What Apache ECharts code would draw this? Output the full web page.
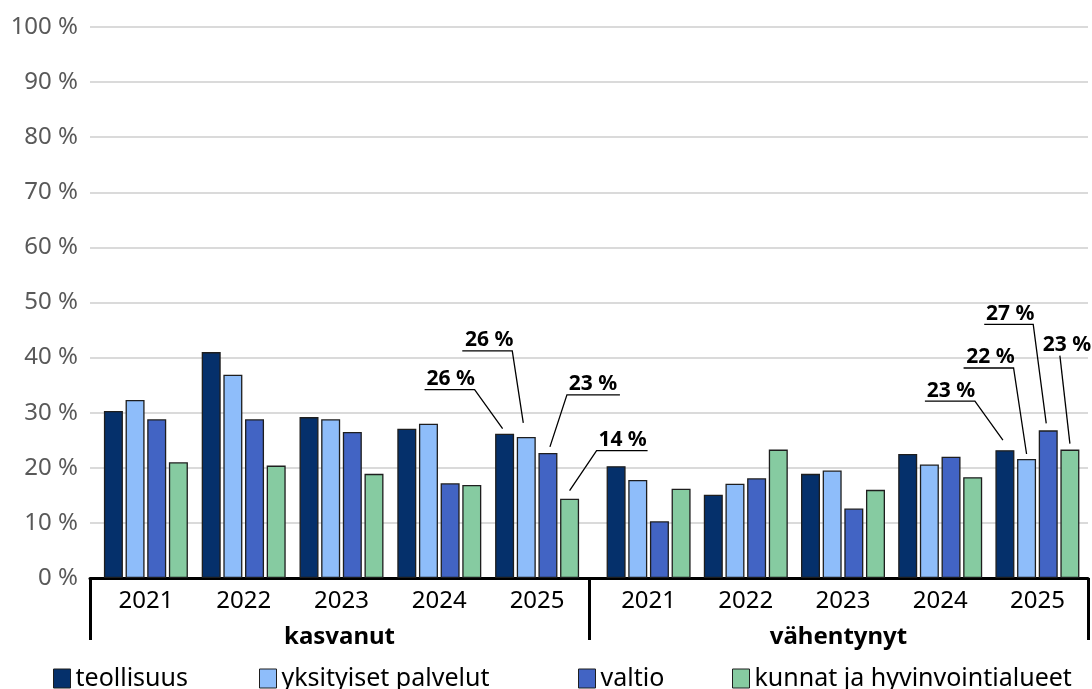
<!DOCTYPE html>
<html lang="fi">
<head>
<meta charset="UTF-8">
<title>kasvanut / vähentynyt</title>
<script src="https://cdn.jsdelivr.net/npm/echarts@6/dist/echarts.min.js"></script>
<style>html,body{margin:0;padding:0;background:#fff}</style>
</head>
<body>
<div id="main" style="width:1092px;height:689px"></div>
<script>
// categories
var years = ['2021', '2022', '2023', '2024', '2025'];
var groups = ['kasvanut', 'vähentynyt'];
var seriesNames = ['teollisuus', 'yksityiset palvelut', 'valtio', 'kunnat ja hyvinvointialueet'];

// kasvanut (%)
var upTeollisuus = [30.3, 41.0, 29.2, 27.1, 26.2];
var upYksityiset = [32.3, 36.9, 28.8, 28.0, 25.6];
var upValtio     = [28.8, 28.8, 26.5, 17.2, 22.7];
var upKunnat     = [21.0, 20.4, 18.9, 16.9, 14.4];

// vähentynyt (%)
var downTeollisuus = [20.3, 15.1, 18.9, 22.5, 23.2];
var downYksityiset = [17.8, 17.1, 19.5, 20.6, 21.6];
var downValtio     = [10.3, 18.1, 12.6, 22.0, 26.8];
var downKunnat     = [16.2, 23.3, 16.0, 18.3, 23.3];

// only the latest year gets a value label
var labelledYear = '2025';

var colors = ['#05306B', '#8EBDFA', '#4264C4', '#86CBA1'];
var FONT = 'Noto Sans';
var BAR_W = 19;
var BAR_GAP = 0.14;   // share of bar width

// callout shapes, in px relative to the top centre of the bar
var calloutsUp = [
    { line: [[-80, -44], [-30, -44], [-2, -5]], tx: -54, ty: -44 },
    { line: [[-64, -86], [-14, -86], [-3, -14]], tx: -37, ty: -86 },
    { line: [[72, -58], [19, -58], [2, -6]], tx: 45, ty: -58 },
    { line: [[78, -48], [27, -48], [0, -8]], tx: 53, ty: -48 }
];
var calloutsDown = [
    { line: [[-80, -49], [-30, -49], [-2, -10]], tx: -54, ty: -49 },
    { line: [[-63, -91], [-13, -91], [0, -5]], tx: -36, ty: -91 },
    { line: [[-64, -106], [-15, -106], [-2, -7]], tx: -38, ty: -106 },
    { line: [[-10, -94], [0, -6]], tx: -3, ty: -94 }
];

var chart = echarts.init(document.getElementById('main'));

var upData = [upTeollisuus, upYksityiset, upValtio, upKunnat];
var downData = [downTeollisuus, downYksityiset, downValtio, downKunnat];

function calloutRenderer(offsets) {
    var step = BAR_W * (1 + BAR_GAP);
    return function (params, api) {
        var cat = api.value(0), val = api.value(1), k = api.value(2);
        var p = api.coord([cat, val]);
        var cx = p[0] + (k - 1.5) * step;
        var o = offsets[k];
        var pts = o.line.map(function (d) { return [cx + d[0], p[1] + d[1]]; });
        return {
            type: 'group',
            children: [
                { type: 'polyline', shape: { points: pts }, style: { stroke: '#000', lineWidth: 1.3, fill: null } },
                {
                    type: 'text', x: cx + o.tx, y: p[1] + o.ty,
                    style: {
                        text: Math.round(val) + ' %', fill: '#000', fontSize: 21, fontWeight: 'bold',
                        fontFamily: FONT, align: 'center', verticalAlign: 'bottom'
                    }
                }
            ]
        };
    };
}

var series = [];
[upData, downData].forEach(function (set, g) {
    set.forEach(function (vals, k) {
        series.push({
            name: seriesNames[k],
            type: 'bar',
            xAxisIndex: g + 1,
            yAxisIndex: g + 1,
            barWidth: BAR_W,
            barGap: (BAR_GAP * 100) + '%',
            itemStyle: { color: colors[k], borderColor: '#1e1e1e', borderWidth: 1.3 },
            data: vals
        });
    });
    var ci = years.indexOf(labelledYear);
    series.push({
        type: 'custom',
        xAxisIndex: g + 1,
        yAxisIndex: g + 1,
        silent: true,
        z: 5,
        renderItem: calloutRenderer(g === 0 ? calloutsUp : calloutsDown),
        data: set.map(function (vals, k) { return [ci, vals[ci], k]; })
    });
});

var legendLefts = [53, 259, 578, 732];

var option = {
    animation: false,
    textStyle: { fontFamily: FONT },
    grid: [
        { left: 90, right: 4, top: 27, bottom: 111, outerBoundsMode: 'none' },
        { left: 97, width: 489, top: 27, bottom: 111, outerBoundsMode: 'none' },
        { left: 600, width: 486, top: 27, bottom: 111, outerBoundsMode: 'none' }
    ],
    legend: seriesNames.map(function (n, i) {
        return {
            data: [n], left: legendLefts[i], top: 666, padding: 0,
            icon: 'rect', itemWidth: 17, itemHeight: 19,
            itemStyle: { borderColor: '#1e1e1e', borderWidth: 1 },
            textStyle: { fontSize: 25, fontFamily: FONT, color: '#000' }
        };
    }),
    xAxis: [
        {
            gridIndex: 0, type: 'category', data: groups,
            axisLine: { lineStyle: { color: '#000', width: 3 } },
            axisTick: { show: true, length: 62, lineStyle: { color: '#000', width: 3 } },
            axisLabel: { margin: 47, fontSize: 24, fontWeight: 'bold', color: '#000', fontFamily: FONT }
        },
        {
            gridIndex: 1, type: 'category', data: years,
            axisLine: { show: false }, axisTick: { show: false },
            axisLabel: { margin: 11, fontSize: 24, color: '#000', fontFamily: FONT }
        },
        {
            gridIndex: 2, type: 'category', data: years,
            axisLine: { show: false }, axisTick: { show: false },
            axisLabel: { margin: 11, fontSize: 24, color: '#000', fontFamily: FONT }
        }
    ],
    yAxis: [
        {
            gridIndex: 0, type: 'value', min: 0, max: 100, interval: 10,
            axisLine: { show: false }, axisTick: { show: false },
            axisLabel: { formatter: '{value} %', fontSize: 24, color: '#595959', margin: 12, fontFamily: FONT },
            splitLine: { lineStyle: { color: '#dadada', width: 2 } }
        },
        { gridIndex: 1, type: 'value', min: 0, max: 100, show: false },
        { gridIndex: 2, type: 'value', min: 0, max: 100, show: false }
    ],
    series: series
};

chart.setOption(option);
</script>
</body>
</html>
